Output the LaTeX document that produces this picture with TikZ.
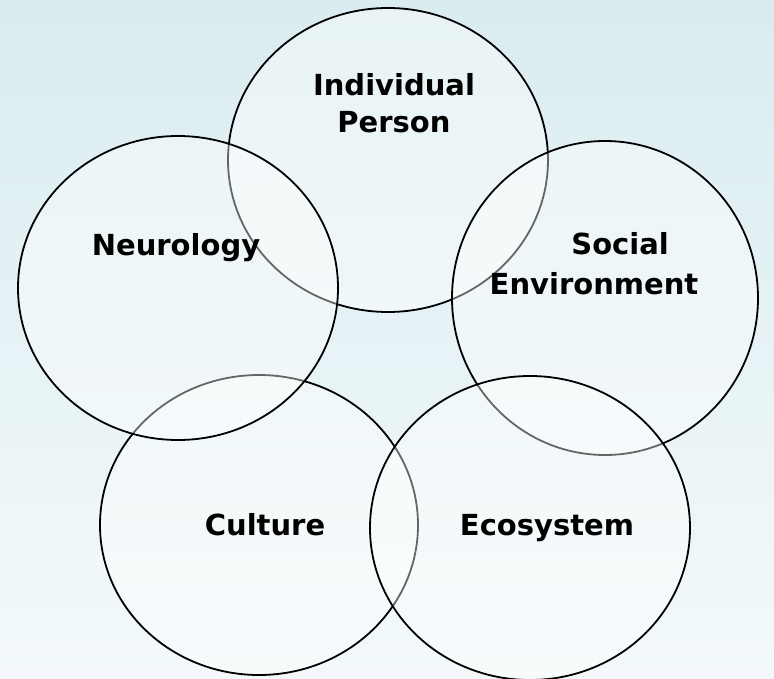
\documentclass[tikz,border=0pt]{standalone}
\usepackage{fontspec}
\setmainfont{DejaVu Sans}
\usetikzlibrary{shapes.geometric}

\definecolor{bgtop}{RGB}{218,236,240}
\definecolor{bgbottom}{RGB}{243,249,251}

\tikzset{
  bubble/.style={draw=black, line width=1.8pt, ellipse, fill=white, fill opacity=0.4, inner sep=0pt},
  label/.style={font=\bfseries\fontsize{29}{37}\selectfont, align=center, inner sep=0pt, text=black}
}

\begin{document}
\begin{tikzpicture}[x=1pt, y=-1pt]

% Fond
\shade[top color=bgtop, bottom color=bgbottom] (0,0) rectangle (774,679);
\useasboundingbox (0,0) rectangle (774,679);

% Cercles
\node[bubble, minimum width=320pt, minimum height=304pt] (person) at (388,160) {};
\node[bubble, minimum width=306pt, minimum height=314pt] (social) at (605,298) {};
\node[bubble, minimum width=318pt, minimum height=300pt] (culture) at (259,525) {};
\node[bubble, minimum width=320pt, minimum height=304pt] (eco) at (530,528) {};
\node[bubble, minimum width=320pt, minimum height=304pt] (neuro) at (178,288) {};

% Textes
\node[label, anchor=north] (tperson) at (394,73) {Individual\\Person};
\node[label, anchor=north] (tsocial) at (594,232) {\hspace*{1.8em}Social\\[3pt]Environment};
\node[label, anchor=base] (tneuro) at (176,255) {Neurology};
\node[label, anchor=base] (tculture) at (265,535) {Culture};
\node[label, anchor=base] (teco) at (547,535) {Ecosystem};

\end{tikzpicture}
\end{document}
